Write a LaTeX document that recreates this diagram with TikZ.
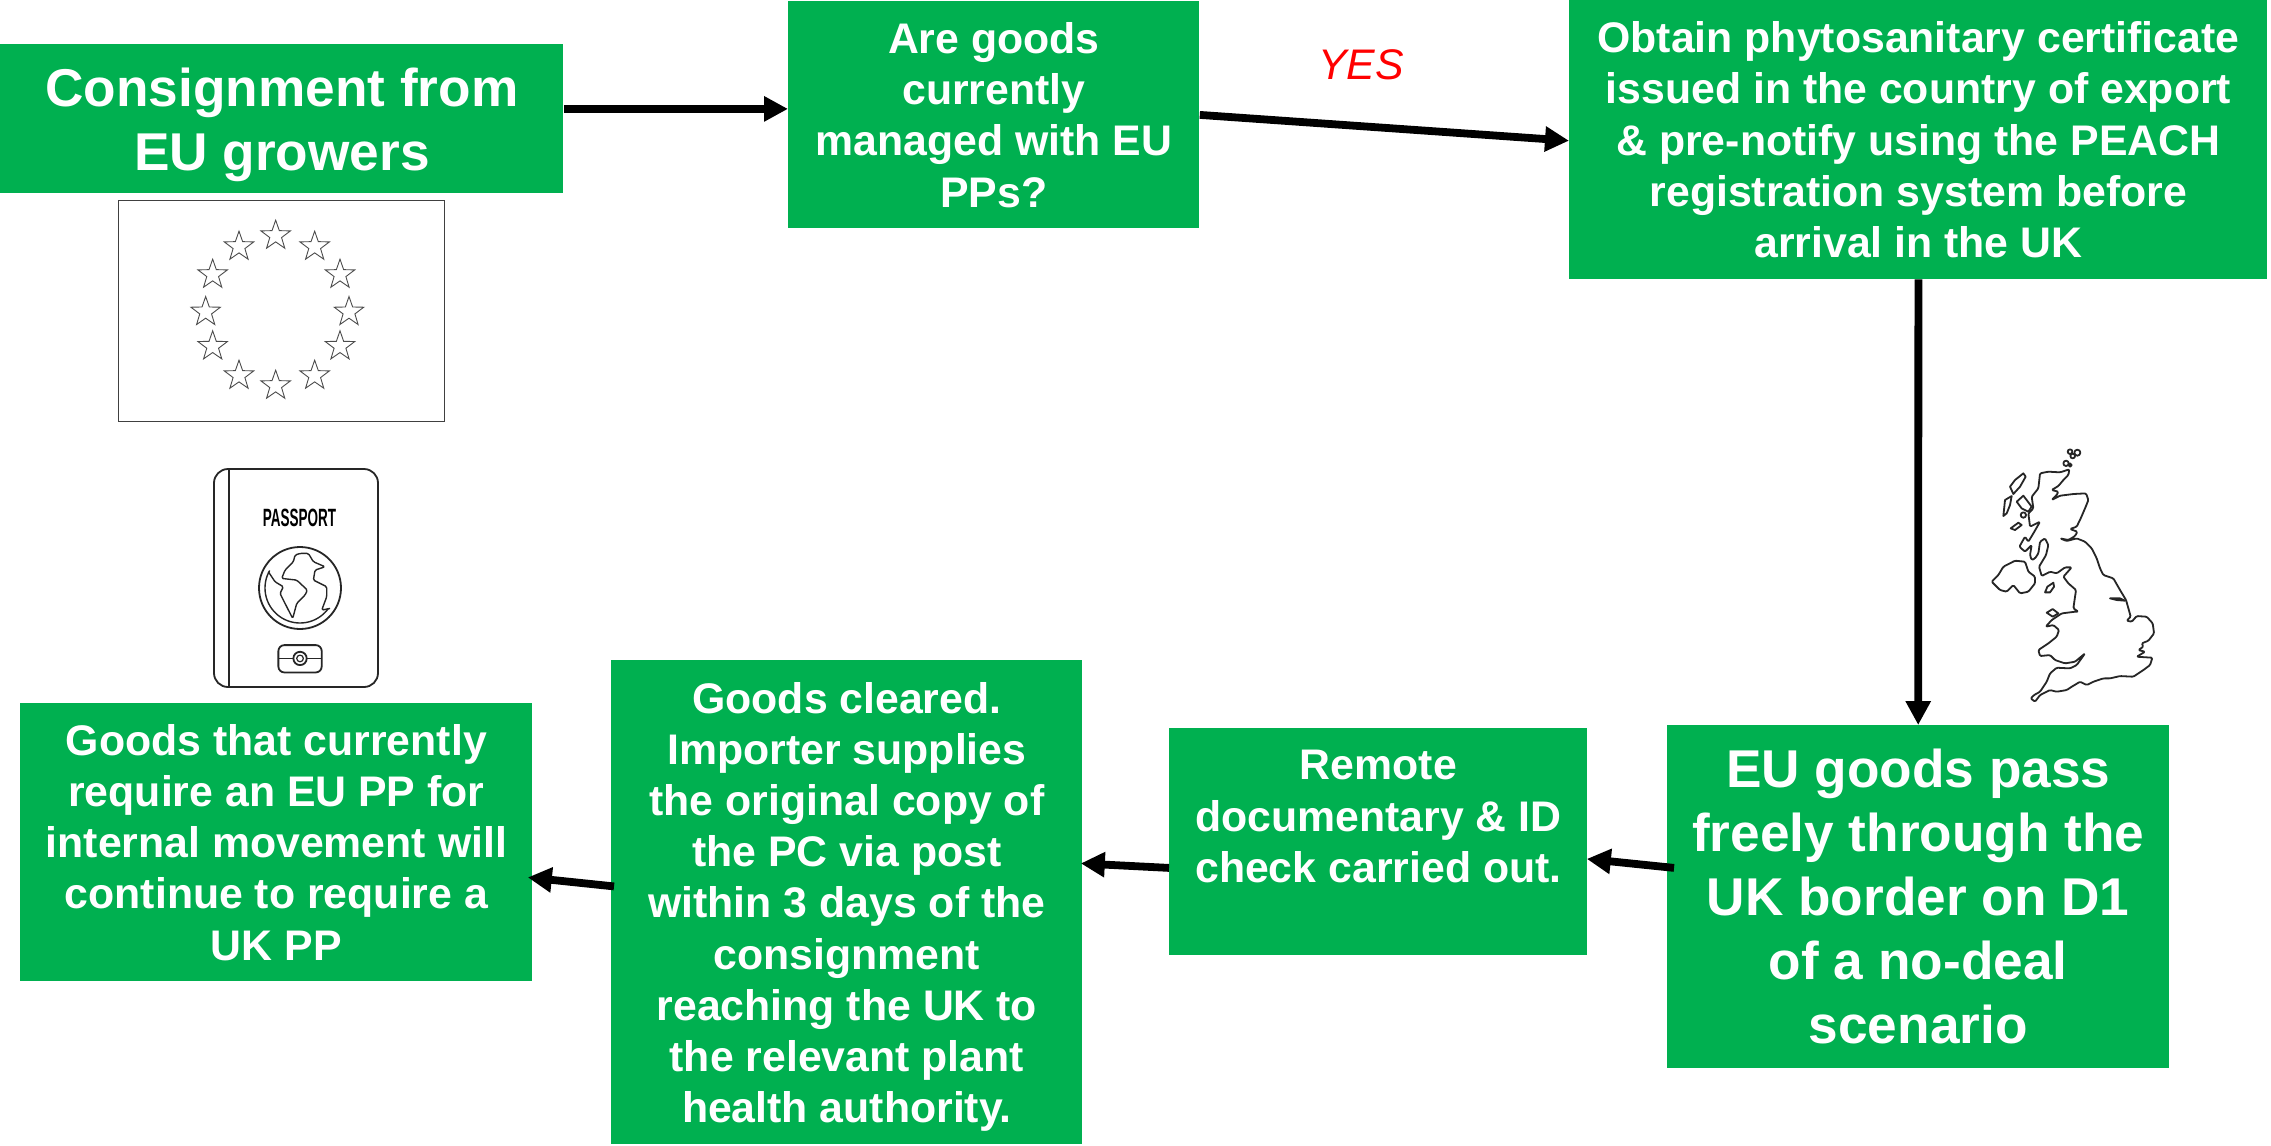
\documentclass[tikz,border=0pt]{standalone}
\usepackage{fontspec}
\setmainfont{Liberation Sans}
\usetikzlibrary{arrows.meta,shapes.geometric}
\definecolor{boxgreen}{HTML}{00B050}
\tikzset{
  flow/.style={fill=boxgreen,text=white,font=\bfseries,align=center,inner sep=0pt,anchor=north west},
  bigtext/.style={font=\fontsize{26.6}{32}\selectfont\bfseries},
  smalltext/.style={font=\fontsize{21.4}{25.6}\selectfont\bfseries},
  link/.style={line width=3.9pt,-{Triangle[length=12pt,width=12pt]}},
  sketch/.style={draw=black!85,line width=0.9pt,line join=round},
  starline/.style={draw=black!70,line width=0.45pt,fill=white,star,star points=5,star point ratio=2.5,minimum size=15.5pt,inner sep=0pt}
}
\begin{document}
\begin{tikzpicture}[x=0.5pt,y=-0.5pt]
\useasboundingbox (0,0) rectangle (2271,1146);
\fill[white] (0,0) rectangle (2271,1146);

% boxes
\node[flow,bigtext,minimum width=281.5pt,minimum height=74.5pt] (grow) at (0,44) {\rule{0pt}{25.6pt}Consignment from\\EU growers};
\node[flow,smalltext,minimum width=205.5pt,minimum height=113.5pt] (q) at (788,1) {Are goods\\currently\\managed with EU\\PPs?};
\node[flow,smalltext,minimum width=349pt,minimum height=139.3pt] (cert) at (1569,0) {Obtain phytosanitary certificate\\issued in the country of export\\\& pre-notify using the PEACH\\registration system before\\arrival in the UK};
\node[flow,bigtext,minimum width=250.8pt,minimum height=171.5pt] (pass) at (1667,725) {EU goods pass\\freely through the\\UK border on D1\\of a no-deal\\scenario};
\node[flow,smalltext,minimum width=209pt,minimum height=113.5pt] (doc) at (1169,728) {Remote\\documentary \& ID\\check carried out.\rule[-25.6pt]{0pt}{25.6pt}};
\node[flow,smalltext,minimum width=235.5pt,minimum height=242pt] (clear) at (611,660) {\rule{0pt}{20pt}Goods cleared.\\Importer supplies\\the original copy of\\the PC via post\\within 3 days of the\\consignment\\reaching the UK to\\the relevant plant\\health authority.};
\node[flow,smalltext,minimum width=256pt,minimum height=139pt] (req) at (20,703) {Goods that currently\\require an EU PP for\\internal movement will\\continue to require a\\UK PP};

% connectors
\draw[link] ([yshift=5pt]grow.east) -- ([yshift=3pt]q.west);
\draw[link] (q.east) -- ([yshift=-0.5pt]cert.west);
\draw[link] (cert.south) -- (pass.north);
\draw[link] ([xshift=3.5pt,yshift=14.5pt]pass.west) -- ([xshift=-0.5pt,yshift=-8.5pt]doc.east);
\draw[link] ([yshift=-13pt]doc.west) -- ([xshift=-1pt,yshift=19.5pt]clear.east);
\draw[link] ([xshift=1.5pt,yshift=8pt]clear.west) -- ([xshift=-2.5pt,yshift=-17.5pt]req.east);

\node[text=red,font=\fontsize{21.4}{26}\selectfont\itshape] (yes) at (1361,65) {YES};

% EU flag
\draw[draw=black!75,line width=0.6pt] (118.3,200.3) rectangle (444.5,421.5);
\foreach \zx/\zy in {527/137,644/170,720/254,747/366,720/469,644/557,527/587,417/557,338/469,317/366,338/254,417/170}
  \node[starline] at ({100+\zx/3},{190+\zy/3}) {};

% passport
\draw[sketch,rounded corners=7pt] (214,469) rectangle (378,687);
\draw[sketch] (229,469) -- (229,687);
\node[font=\bfseries,inner sep=0pt] (ptext) at (299.5,518) {\scalebox{0.54}[1.0]{\fontsize{12.5}{13}\selectfont PASSPORT}};
\draw[sketch] (300,588) circle (41);
\draw[sketch,line width=0.7pt] plot[domain=36:210,samples=40,smooth] ({300+35*cos(\x)},{588+35*sin(\x)});
\begin{scope}[shift={(100,190)},x=0.1667pt,y=-0.1667pt]
  \draw[sketch,line width=0.7pt,rounded corners=0.7pt] (505,1145)--(525,1175)--(550,1190)--(540,1210)--(555,1240)--(578,1285)--(590,1240)--(615,1215)--(622,1200)--(590,1170)--(545,1165)--(555,1140)--(580,1115)--(585,1095)--(600,1090)--(625,1090)--(640,1115)--(675,1130)--(645,1140)--(640,1170)--(680,1190)--(680,1220)--(665,1260)--(690,1255);
  \draw[sketch,rounded corners=3pt] (535,1365) rectangle (665,1447);
  \draw[sketch] (535,1405)--(578,1405) (622,1405)--(665,1405);
  \draw[sketch] (600,1405) circle (20);
  \draw[sketch,line width=0.6pt] (600,1405) circle (10);
\end{scope}

% UK map
\begin{scope}[shift={(1960,430)},x=0.1667pt,y=-0.1667pt]
  \draw[sketch,rounded corners=0.6pt] (240,130)--(265,125)--(300,127)--(328,118)--(325,135)--(310,150)--(295,168)--(275,180)--(295,185)--(290,195)--(275,210)--(300,197)--(340,192)--(378,190)--(385,210)--(375,235)--(362,265)--(350,290)--(330,297)--(352,305)--(345,318)--(325,330)--(300,325)--(320,333)--(350,325)--(375,335)--(395,355)--(410,385)--(420,415)--(430,435)--(460,445)--(480,480)--(498,510)--(505,535)--(512,560)--(500,572)--(515,575)--(530,558)--(560,560)--(578,580)--(582,610)--(565,632)--(545,640)--(550,650)--(535,660)--(555,665)--(530,680)--(577,683)--(570,705)--(550,720)--(520,740)--(480,738)--(450,745)--(430,745)--(400,755)--(380,765)--(360,755)--(335,770)--(320,780)--(290,785)--(270,780)--(240,795)--(225,815)--(212,805)--(222,795)--(240,785)--(260,755)--(270,730)--(290,713)--(330,715)--(350,705)--(375,670)--(345,695)--(315,700)--(285,690)--(270,675)--(240,678)--(235,660)--(265,640)--(290,620)--(297,600)--(280,585)--(257,590)--(275,570)--(305,550)--(345,545)--(355,545)--(340,535)--(345,500)--(348,480)--(325,460)--(310,440)--(335,412)--(315,412)--(290,430)--(270,425)--(245,438)--(237,410)--(258,375)--(265,345)--(255,325)--(240,335)--(235,370)--(225,385)--(215,390)--(210,375)--(215,345)--(195,365)--(178,350)--(195,320)--(205,335)--(220,310)--(240,275)--(210,290)--(205,250)--(220,235)--(215,200)--(235,175)--cycle;
  \draw[sketch,rounded corners=0.6pt] (95,455)--(115,435)--(130,410)--(165,392)--(195,395)--(205,425)--(225,440)--(225,460)--(205,485)--(180,490)--(160,465)--(140,485)--(120,480)--cycle;
  \draw[sketch] (255,487)--(262,470)--(280,458)--(282,470)--(270,487)--cycle;
  \draw[sketch] (260,548)--(278,537)--(295,550)--(278,560)--cycle;
  \draw[sketch] (150,170)--(165,150)--(190,130)--(197,140)--(180,170)--(160,192)--cycle;
  \draw[sketch] (130,258)--(135,210)--(155,198)--(150,225)--(140,250)--cycle;
  \draw[sketch] (170,215)--(190,197)--(215,230)--(205,245)--(185,235)--cycle;
  \draw[sketch] (152,295)--(175,278)--(185,285)--(165,300)--cycle;
  \draw[sketch] (450,505)--(480,505)--(495,512)--(470,510)--cycle;
  \foreach \ox/\oy/\orr in {330/65/7,352/68/9,318/100/8,338/78/7,330/105/5,190/255/8}
    \draw[sketch] (\ox,\oy) circle (\orr);
\end{scope}
\end{tikzpicture}
\end{document}
